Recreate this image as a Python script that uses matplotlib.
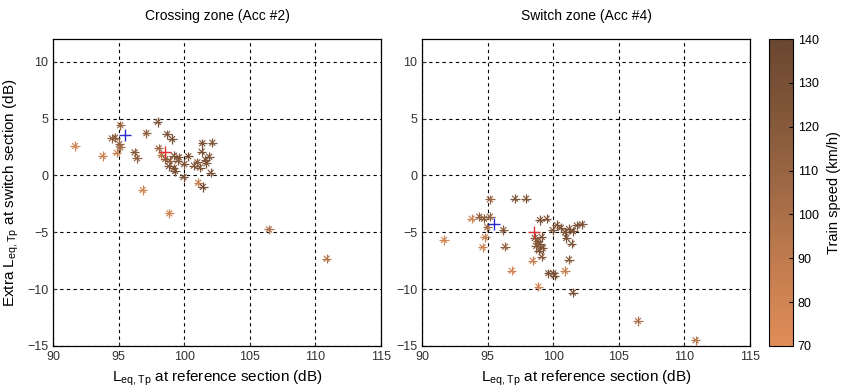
import numpy as np
import matplotlib
matplotlib.use("Agg")
import matplotlib.pyplot as plt
from matplotlib.colors import LinearSegmentedColormap

plt.rcParams['font.family'] = ['Liberation Sans', 'DejaVu Sans']
plt.rcParams['mathtext.fontset'] = 'custom'
plt.rcParams['mathtext.rm'] = 'Liberation Sans'

# crossing zone (Acc #2): reference level, extra level, train speed
x_cross = [91.68, 93.79, 94.49, 94.74, 94.86, 95.05, 95.13, 95.13, 96.22, 96.40,
           96.84, 97.12, 97.99, 98.06, 98.27, 98.57, 98.70, 98.83, 98.87, 99.08,
           99.21, 99.21, 99.59, 99.95, 100.31, 100.74, 101.00, 101.07, 101.38, 101.33,
           101.43, 101.70, 101.91, 102.15, 102.02, 106.46, 110.86, 99.50, 100.00, 98.90,
           99.30, 101.20, 101.60]
y_cross = [2.59, 1.71, 3.26, 3.34, 2.00, 2.76, 4.42, 2.47, 2.03, 1.51,
           -1.28, 3.72, 4.71, 2.38, 1.80, 1.45, 3.63, 0.81, -3.33, 3.20,
           1.74, 0.64, 1.60, -0.15, 1.69, 0.87, 1.16, -0.64, 2.83, 2.09,
           -1.00, 1.07, 1.65, 2.88, 0.24, -4.74, -7.32, 1.30, 1.00, 1.30,
           0.40, 0.70, 1.40]
v_cross = [80, 82, 115, 120, 85, 115, 110, 105, 120, 115,
           80, 115, 125, 110, 95, 120, 125, 125, 80, 130,
           125, 125, 125, 130, 130, 125, 120, 85, 130, 130,
           135, 125, 130, 125, 125, 100, 95, 120, 125, 115,
           130, 125, 130]

# switch zone (Acc #4)
x_switch = [91.68, 93.79, 94.37, 94.73, 95.18, 94.98, 95.18, 94.80, 94.62, 96.20,
            96.33, 96.84, 97.09, 97.93, 98.44, 98.87, 98.99, 99.50, 99.12, 99.12,
            99.63, 100.00, 99.96, 100.27, 98.60, 98.80, 99.00, 99.20, 98.90, 98.70,
            100.60, 100.90, 101.20, 101.50, 101.80, 102.20, 101.00, 101.40, 101.20, 100.90,
            101.50, 100.10, 106.46, 110.86]
y_switch = [-5.68, -3.80, -3.63, -3.80, -2.10, -4.56, -3.63, -5.44, -6.32, -4.80,
            -6.27, -8.38, -2.04, -2.04, -7.50, -9.78, -3.92, -3.80, -5.40, -7.15,
            -8.60, -8.60, -4.80, -4.36, -5.50, -5.80, -6.00, -6.40, -6.60, -6.20,
            -4.60, -5.00, -4.70, -4.90, -4.40, -4.30, -5.50, -6.00, -7.40, -8.40,
            -10.30, -8.80, -12.80, -14.50]
v_switch = [80, 82, 115, 120, 110, 105, 115, 85, 82, 120,
            115, 80, 125, 125, 85, 80, 130, 125, 125, 120,
            130, 125, 130, 125, 125, 120, 130, 125, 130, 120,
            125, 130, 125, 130, 125, 125, 130, 125, 120, 85,
            130, 130, 100, 95]

# highlighted passes (blue / red)
mark_x = [95.46, 98.52]
mark_cross = [3.60, 2.03]
mark_switch = [-4.27, -4.95]

cmap = LinearSegmentedColormap.from_list(
    "speed", ["#e08d58", "#c47d4f", "#a16a46", "#825739", "#6a4630"])

fig = plt.figure(figsize=(8.44, 3.87), dpi=100)
ax1 = fig.add_axes([0.0628, 0.106, 0.3886, 0.793])
ax2 = fig.add_axes([0.5, 0.106, 0.3886, 0.793])
cax = fig.add_axes([0.911, 0.106, 0.0284, 0.793])


def draw(ax, xs, ys, vs, my, title):
    sc = ax.scatter(xs, ys, c=vs, cmap=cmap, vmin=70, vmax=140, marker='+',
                    s=45, linewidths=0.9, zorder=3)
    ax.scatter(xs, ys, c=vs, cmap=cmap, vmin=70, vmax=140, marker='x',
               s=18, linewidths=0.8, zorder=3)
    ax.plot(mark_x[0], my[0], '+', color='#2b2bd0', ms=8, mew=1.0, zorder=4)
    ax.plot(mark_x[1], my[1], '+', color='#e03030', ms=8, mew=1.0, zorder=4)
    ax.set_xlim(90, 115)
    ax.set_ylim(-15, 12)
    ax.set_xticks([90, 95, 100, 105, 110, 115])
    ax.set_yticks([-15, -10, -5, 0, 5, 10])
    ax.grid(True, color='black', linestyle=(0, (3, 3)), linewidth=0.8)
    ax.set_axisbelow(True)
    ax.tick_params(direction='in', length=3, labelsize=9, colors='#333333')
    for s in ax.spines.values():
        s.set_linewidth(0.9)
    ax.set_title(title, fontsize=10, pad=14)
    ax.set_xlabel(r"L$_{\mathrm{eq,Tp}}$ at reference section (dB)", fontsize=11)
    return sc


sc = draw(ax1, x_cross, y_cross, v_cross, mark_cross, "Crossing zone (Acc #2)")
draw(ax2, x_switch, y_switch, v_switch, mark_switch, "Switch zone (Acc #4)")
ax1.set_ylabel(r"Extra L$_{\mathrm{eq,Tp}}$ at switch section (dB)", fontsize=11)

cb = fig.colorbar(sc, cax=cax)
cb.set_ticks([70, 80, 90, 100, 110, 120, 130, 140])
cb.ax.tick_params(labelsize=9, length=3, direction='in')
cb.set_label("Train speed (km/h)", fontsize=10.5, labelpad=6)

fig.savefig("out.png", dpi=100)
